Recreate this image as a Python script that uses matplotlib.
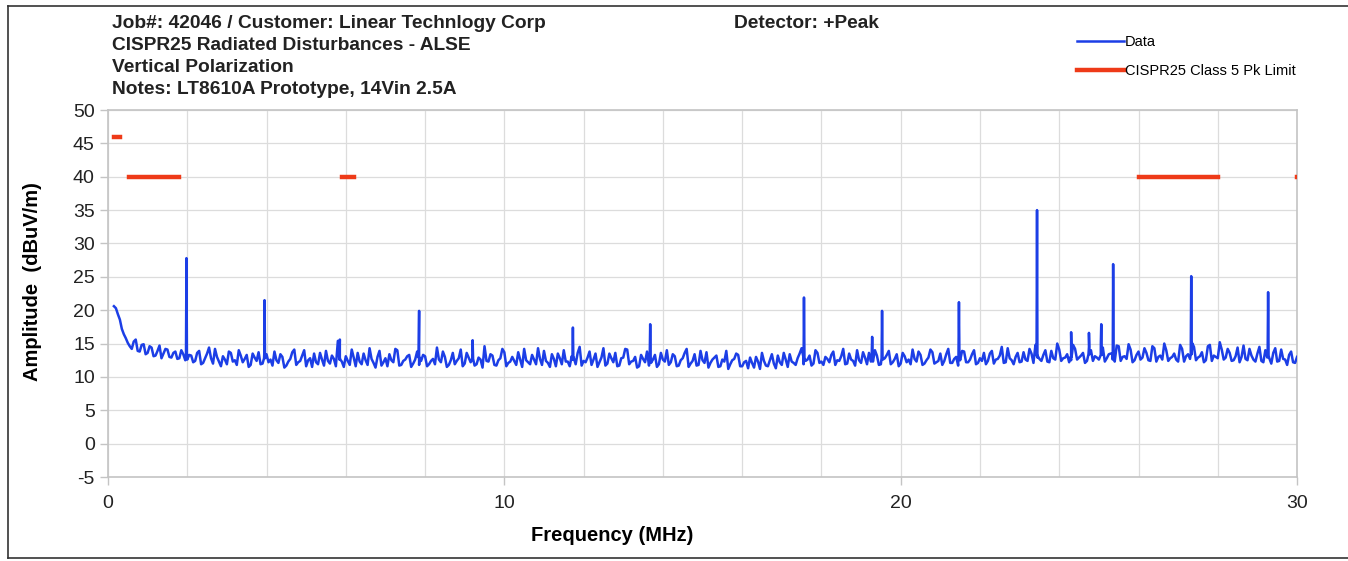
import numpy as np
import matplotlib.pyplot as plt
from matplotlib.lines import Line2D

# measured noise floor, 0.1 MHz steps starting at 0.2 MHz
floor_start = 0.2
floor_step = 0.1
floor_db = [
    20.3, 18.6, 16.4, 15.1, 14.2, 15.6, 13.8, 14.9, 13.6, 14.4, 13.2, 14.7, 13.5, 14.1, 12.9, 13.8, 12.8, 13.4, 12.6, 13.2,
    12.4, 13.9, 12.1, 13.5, 12.8, 14.2, 12.3, 13.1, 11.9, 13.6, 12.5, 14.0, 12.2, 13.3, 11.8, 12.9, 13.7, 12.0, 13.4, 12.6,
    13.8, 12.1, 13.0, 11.7, 12.7, 14.1, 12.2, 13.2, 11.6, 12.8, 13.5, 11.9, 12.6, 13.9, 12.0, 12.7, 15.4, 12.3, 13.1, 11.8,
    12.9, 13.6, 11.9, 12.5, 14.3, 12.1, 13.0, 11.7, 12.8, 13.4, 12.2, 14.0, 11.8, 12.6, 13.3, 12.0, 13.8, 12.4, 13.1, 11.9,
    12.7, 14.4, 12.2, 13.0, 11.8, 13.6, 12.4, 14.1, 12.0, 12.9, 13.5, 11.9, 12.6, 14.6, 12.3, 13.2, 11.7, 12.8, 13.7, 12.1,
    13.0, 11.8, 12.6, 14.2, 12.2, 13.3, 11.9, 12.7, 13.9, 12.1, 13.4, 11.6, 12.8, 14.0, 12.3, 13.1, 11.9, 14.5, 12.4, 12.9,
    11.8, 13.5, 12.2, 14.3, 12.0, 12.8, 13.6, 11.7, 12.9, 14.1, 12.3, 13.0, 11.6, 12.7, 13.8, 12.1, 13.3, 11.9, 12.6, 14.0,
    12.2, 13.1, 11.7, 12.8, 14.2, 12.0, 13.4, 11.8, 12.5, 13.7, 12.1, 12.9, 11.5, 12.6, 13.9, 11.9, 12.7, 13.3, 11.6, 12.4,
    12.9, 11.4, 12.3, 13.6, 11.7, 12.5, 12.0, 13.2, 11.8, 12.6, 13.4, 12.1, 12.8, 14.3, 12.4, 13.2, 12.0, 13.6, 12.3, 13.0,
    12.2, 13.8, 12.5, 13.1, 11.9, 13.5, 12.4, 14.0, 12.1, 12.9, 13.6, 12.3, 13.2, 11.9, 12.8, 13.9, 12.2, 13.4, 12.0, 13.1,
    12.6, 14.1, 12.3, 13.3, 12.0, 12.9, 13.7, 12.2, 13.5, 12.4, 14.2, 12.1, 13.0, 12.5, 13.8, 12.2, 13.4, 11.9, 12.8, 13.6,
    12.4, 13.9, 12.6, 13.2, 12.1, 14.3, 12.5, 13.0, 12.2, 13.7, 12.4, 13.5, 14.8, 12.7, 13.3, 12.3, 13.9, 12.6, 14.1, 12.8,
    13.4, 12.5, 14.2, 12.9, 13.6, 12.4, 14.0, 13.1, 12.6, 14.4, 12.8, 13.5, 12.3, 14.6, 13.0, 12.7, 14.1, 12.5, 13.8, 12.9,
    13.6, 12.4, 14.3, 13.0, 12.6, 14.0, 12.8, 13.5, 12.3, 14.2, 13.1, 12.7, 14.5, 12.9, 13.7, 12.5, 14.8, 13.2, 12.8, 14.1,
    12.9, 13.6, 12.5, 14.4, 13.0, 12.7, 14.2, 12.6, 13.5, 12.4, 14.0, 12.8, 13.6, 12.3, 14.1, 12.6, 13.3, 12.2, 13.0,
]

# in-between sweep points, 0.1 MHz steps starting at 0.25 MHz
mid_start = 0.25
mid_db = [
    19.4, 17.2, 15.8, 14.6, 15.3, 13.9, 14.8, 13.4, 14.6, 13.1, 13.9, 12.8, 14.2, 13.0, 13.6, 12.7, 14.0, 12.5, 13.3, 12.2,
    13.6, 11.9, 12.8, 14.4, 12.0, 13.0, 11.6, 12.6, 13.8, 12.3, 11.8, 13.2, 12.7, 11.5, 13.5, 12.4, 11.9, 14.3, 12.2, 11.7,
    12.5, 13.4, 11.4, 12.3, 13.7, 11.8, 12.4, 14.0, 12.5, 11.5, 12.2, 13.6, 11.7, 12.4, 13.2, 11.6, 12.9, 11.5, 12.4, 14.1,
    11.6, 12.3, 13.5, 11.8, 12.7, 11.4, 13.9, 12.2, 11.6, 12.5, 14.2, 11.7, 12.4, 13.1, 11.5, 12.6, 11.8, 13.3, 11.6, 12.4,
    11.9, 12.6, 13.8, 11.5, 12.5, 11.9, 12.8, 11.6, 13.6, 12.2, 11.7, 12.9, 11.4, 12.4, 13.4, 11.8, 12.5, 14.2, 11.6, 12.3,
    12.4, 13.7, 11.5, 12.5, 11.9, 12.6, 14.3, 11.8, 12.4, 11.5, 12.7, 13.5, 11.9, 12.3, 11.6, 12.9, 13.6, 11.7, 12.2, 13.8,
    12.6, 11.5, 12.9, 11.7, 13.5, 12.2, 11.6, 12.8, 14.2, 11.9, 12.4, 11.4, 13.3, 12.2, 11.7, 12.6, 11.5, 13.6, 12.3, 11.8,
    13.4, 11.6, 12.5, 13.6, 11.5, 12.4, 11.7, 13.9, 12.1, 11.4, 12.6, 13.2, 11.6, 12.3, 11.2, 12.5, 13.5, 11.6, 12.2, 11.3,
    12.1, 13.0, 11.2, 12.4, 11.6, 13.4, 11.3, 12.2, 13.6, 11.5, 12.3, 11.8, 13.5, 11.9, 12.6, 11.7, 14.0, 12.1, 11.8, 12.7,
    13.3, 11.8, 12.4, 14.2, 12.0, 12.6, 11.7, 12.5, 13.7, 11.9, 12.3, 14.0, 11.8, 12.6, 13.3, 11.9, 12.7, 11.6, 13.6, 12.2,
    11.9, 12.7, 13.8, 11.8, 12.5, 14.1, 12.0, 12.4, 11.8, 13.4, 12.1, 12.7, 11.7, 13.9, 12.2, 12.6, 14.0, 12.1, 12.4, 11.9,
    13.5, 12.0, 12.7, 14.5, 12.2, 12.8, 11.9, 13.6, 12.3, 12.6, 14.2, 12.1, 12.9, 12.4, 14.0, 12.2, 12.8, 15.0, 12.4, 12.9,
    12.2, 14.8, 12.6, 13.2, 12.1, 14.5, 12.4, 12.9, 15.1, 12.3, 13.4, 12.6, 14.7, 12.4, 13.1, 14.9, 12.2, 13.3, 12.6, 14.3,
    12.5, 14.6, 12.3, 13.2, 15.0, 12.4, 13.0, 12.6, 14.8, 12.3, 13.4, 15.1, 12.5, 13.1, 12.2, 14.6, 12.4, 13.0, 15.2, 12.6,
    14.2, 12.4, 13.1, 12.2, 14.7, 12.5, 13.2, 12.3, 14.5, 12.2, 12.9, 12.0, 14.3, 12.4, 12.7, 11.8, 13.8, 12.1,
]

# first sweep point
lead_mhz = [0.15]
lead_db = [20.6]

# harmonic spikes
spike_mhz = [1.98, 3.95, 5.85, 7.85, 9.2, 11.73, 13.68, 17.56, 19.28, 19.53, 21.47,
             23.44, 24.3, 24.75, 25.06, 25.36, 27.33, 29.27]
spike_db = [27.8, 21.5, 15.6, 19.9, 15.5, 17.4, 17.9, 21.9, 16.0, 19.9, 21.2,
            35.0, 16.7, 16.6, 17.9, 26.9, 25.1, 22.7]
spike_base = [13.0, 12.8, 12.6, 12.9, 12.7, 12.6, 13.0, 12.9, 13.0, 12.8, 13.1,
              13.2, 13.0, 13.4, 13.3, 13.5, 13.4, 13.2]

# CISPR25 class 5 peak limit bands
limit_start = [0.15, 0.53, 5.9, 26.0, 30.0]
limit_stop = [0.30, 1.8, 6.2, 28.0, 54.0]
limit_db = [46, 40, 40, 40, 40]

BLUE = '#1c3ee6'
RED = '#ee3a18'
GRID = '#dcdcdc'

plt.rcParams['font.family'] = ['Liberation Sans', 'DejaVu Sans']
plt.rcParams['axes.unicode_minus'] = False

# assemble data trace
f = list(lead_mhz)
a = list(lead_db)
f += list(floor_start + floor_step * np.arange(len(floor_db)))
a += list(floor_db)
f += list(mid_start + floor_step * np.arange(len(mid_db)))
a += list(mid_db)
for fm, pk, bs in zip(spike_mhz, spike_db, spike_base):
    f += [fm - 0.012, fm, fm + 0.012]
    a += [bs, pk, bs]
order = np.argsort(f, kind='stable')
f = np.array(f)[order]
a = np.array(a)[order]

# limit trace with gaps
lf, la = [], []
for s, e, v in zip(limit_start, limit_stop, limit_db):
    lf += [s, e, np.nan]
    la += [v, v, np.nan]

fig = plt.figure(figsize=(13.48, 5.61), dpi=100)
ax = fig.add_axes([0.0801, 0.1497, 0.8821, 0.6542])

ax.plot(f, a, color=BLUE, lw=1.8, label='Data', zorder=3)
ax.plot(lf, la, color=RED, lw=3.2, solid_capstyle='projecting',
        label='CISPR25 Class 5 Pk Limit', zorder=4)

ax.set_xlim(0, 30)
ax.set_ylim(-5, 50)
ax.set_xticks([0, 10, 20, 30])
ax.set_xticks(np.arange(0, 31, 2), minor=True)
ax.set_yticks(np.arange(-5, 51, 5))
ax.grid(True, which='both', color=GRID, lw=0.9)
ax.set_axisbelow(True)
for sp in ax.spines.values():
    sp.set_color('#c4c4c4')
    sp.set_linewidth(1.2)
ax.tick_params(axis='both', which='major', labelsize=14, colors='#c4c4c4',
               labelcolor='#222222', length=6, width=1)
ax.tick_params(axis='x', which='minor', length=0)
ax.tick_params(axis='x', pad=7)

ax.set_xlabel('Frequency (MHz)', fontsize=14.5, fontweight='bold')
ax.xaxis.set_label_coords((612 - 108) / 1189, (477 - 535) / 367)
ax.set_ylabel('Amplitude  (dBuV/m)', fontsize=14.5, fontweight='bold')
ax.yaxis.set_label_coords((33 - 108) / 1189, (477 - 282) / 367)
ax.xaxis.label.set_va('center')
ax.yaxis.label.set_va('center')

header = ['Job#: 42046 / Customer: Linear Technlogy Corp',
          'CISPR25 Radiated Disturbances - ALSE',
          'Vertical Polarization',
          'Notes: LT8610A Prototype, 14Vin 2.5A']
for i, line in enumerate(header):
    fig.text(112 / 1348, 1 - (23 + 22 * i) / 561, line, fontsize=13.8,
             fontweight='bold', va='center', color='#222222')
fig.text(734 / 1348, 1 - 23 / 561, 'Detector: +Peak', fontsize=13.8,
         fontweight='bold', va='center', color='#222222')

fig.legend(loc='upper left', bbox_to_anchor=(1064 / 1348, 1 - 22 / 561),
           frameon=False, fontsize=10.5, handlelength=3.2, handletextpad=0.1,
           labelspacing=1.0)

# outer frame
fig.add_artist(Line2D([0.006, 0.006], [0.005, 0.989], color='#333333', lw=1.2))
fig.add_artist(Line2D([0.006, 1.0], [0.989, 0.989], color='#333333', lw=1.2))
fig.add_artist(Line2D([0.006, 1.0], [0.005, 0.005], color='#333333', lw=1.2))

fig.savefig('out.png', dpi=100)
